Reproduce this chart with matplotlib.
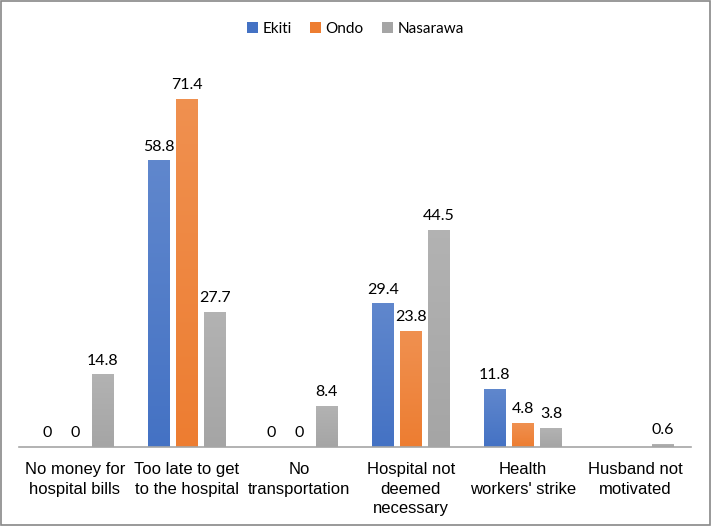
import numpy as np
import matplotlib
matplotlib.use("Agg")
import matplotlib.pyplot as plt
from matplotlib.colors import LinearSegmentedColormap, to_rgb
from matplotlib.patches import Rectangle, Patch

categories = [
    "No money for\nhospital bills",
    "Too late to get\nto the hospital",
    "No\ntransportation",
    "Hospital not\ndeemed\nnecessary",
    "Health\nworkers' strike",
    "Husband not\nmotivated",
]
series = ["Ekiti", "Ondo", "Nasarawa"]
ekiti = [0, 58.8, 0, 29.4, 11.8, None]
ondo = [0, 71.4, 0, 23.8, 4.8, None]
nasarawa = [14.8, 27.7, 8.4, 44.5, 3.8, 0.6]
colors = ["#4472C4", "#ED7D31", "#A5A5A5"]


def lighten(c, f):
    r = np.array(to_rgb(c))
    return tuple(r + (1 - r) * f)


fig = plt.figure(figsize=(7.11, 5.26), dpi=100)
ax = fig.add_axes([0.0267, 0.150, 0.945, 0.740])
x = np.arange(len(categories))
width = 0.196
offsets = [-0.25, 0, 0.25]

for vals, off, col in zip([ekiti, ondo, nasarawa], offsets, colors):
    cmap = LinearSegmentedColormap.from_list("g", [col, lighten(col, 0.15)])
    grad = np.linspace(0, 1, 256).reshape(-1, 1)
    for xi, v in zip(x, vals):
        if v is None:
            continue
        x0 = xi + off - width / 2
        if v > 0:
            ax.imshow(grad, extent=[x0, x0 + width, 0, v], origin="lower",
                      aspect="auto", cmap=cmap, zorder=2)
        ax.text(xi + off, v + 1.5, f"{v:g}", ha="center", va="bottom",
                fontsize=11.5, family="Lato", color="#000000")

ax.set_xlim(-0.5, len(categories) - 0.5)
ax.set_ylim(0, 80)
ax.set_xticks(x)
ax.set_xticklabels(categories, fontsize=12, family="Liberation Sans",
                   linespacing=1.35)
ax.tick_params(axis="x", length=0, pad=11)
ax.set_yticks([])
for s in ["top", "right", "left"]:
    ax.spines[s].set_visible(False)
ax.spines["bottom"].set_color("#A6A6A6")
ax.spines["bottom"].set_linewidth(1.2)

handles = [Patch(facecolor=c, label=s) for s, c in zip(series, colors)]
fig.legend(handles=handles, loc="upper center", bbox_to_anchor=(0.5, 0.985),
           ncol=3, frameon=False, prop={"family": "Lato", "size": 11},
           handlelength=0.7, handleheight=0.7, columnspacing=1.2,
           handletextpad=0.3)

fig.patches.append(Rectangle((0.001, 0.001), 0.997, 0.997, transform=fig.transFigure,
                             fill=False, edgecolor="#888888", linewidth=1.2))

fig.savefig("out.png", dpi=100)
